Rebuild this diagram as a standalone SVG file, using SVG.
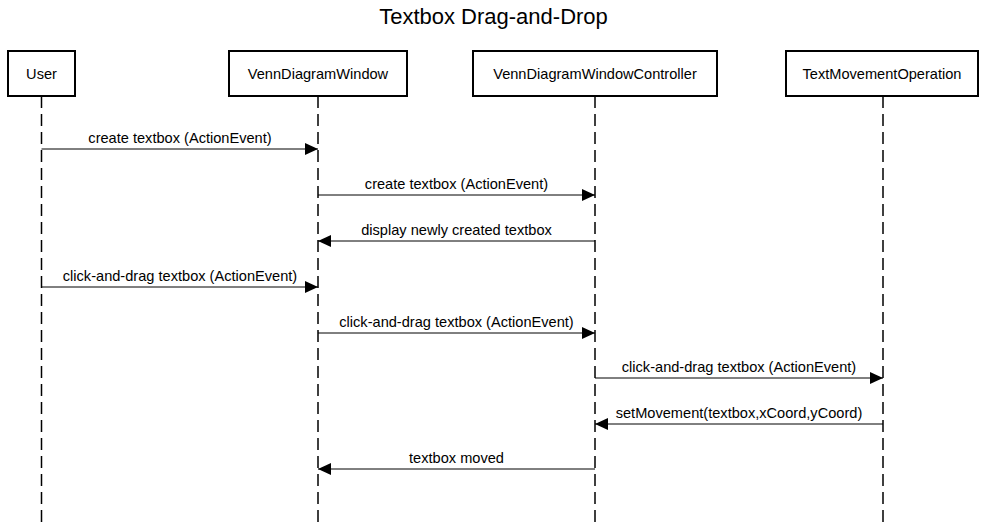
<svg xmlns="http://www.w3.org/2000/svg" width="987" height="527" viewBox="0 0 987 527">
<style>
.box{fill:#fff;stroke:#000;stroke-width:2}
.lbl{font-family:"Liberation Sans",Arial,sans-serif;font-size:14.6px;fill:#000;text-anchor:middle}
.title{font-family:"Liberation Sans",Arial,sans-serif;font-size:22px;fill:#000;text-anchor:middle}
.life{stroke:#000;stroke-width:1.5;stroke-dasharray:12 6;fill:none}
.msg{stroke:#000;stroke-width:1;fill:none}
</style>
<defs>
<marker id="ah" viewBox="0 0 13 12" refX="13" refY="6" markerWidth="13" markerHeight="12" markerUnits="userSpaceOnUse" orient="auto">
<path d="M0,0 L13,6 L0,12 Z" fill="#000"/>
</marker>
</defs>
<rect width="987" height="527" fill="#fff"/>
<text class="title" x="493.5" y="24">Textbox Drag-and-Drop</text>
<g id="lifelines">
<line class="life" x1="41.5" y1="96" x2="41.5" y2="522"/>
<line class="life" x1="318" y1="96" x2="318" y2="522"/>
<line class="life" x1="595" y1="96" x2="595" y2="522"/>
<line class="life" x1="883" y1="96" x2="883" y2="522"/>
</g>
<g id="user"><rect class="box" x="8" y="51" width="67" height="45"/><text class="lbl" x="41.5" y="79">User</text></g>
<g id="window"><rect class="box" x="229" y="51" width="178" height="45"/><text class="lbl" x="318" y="79">VennDiagramWindow</text></g>
<g id="controller"><rect class="box" x="473" y="51" width="244" height="45"/><text class="lbl" x="595" y="79">VennDiagramWindowController</text></g>
<g id="textmove"><rect class="box" x="786" y="51" width="192" height="45"/><text class="lbl" x="882" y="79">TextMovementOperation</text></g>
<g id="connectors">
<line class="msg" x1="41.5" y1="149" x2="318" y2="149" marker-end="url(#ah)"/>
<text class="lbl" x="180" y="143">create textbox (ActionEvent)</text>
<line class="msg" x1="318" y1="195" x2="595" y2="195" marker-end="url(#ah)"/>
<text class="lbl" x="456.5" y="189">create textbox (ActionEvent)</text>
<line class="msg" x1="595" y1="241" x2="318" y2="241" marker-end="url(#ah)"/>
<text class="lbl" x="456.5" y="235">display newly created textbox</text>
<line class="msg" x1="41.5" y1="287" x2="318" y2="287" marker-end="url(#ah)"/>
<text class="lbl" x="180" y="281">click-and-drag textbox (ActionEvent)</text>
<line class="msg" x1="318" y1="333" x2="595" y2="333" marker-end="url(#ah)"/>
<text class="lbl" x="456.5" y="327">click-and-drag textbox (ActionEvent)</text>
<line class="msg" x1="595" y1="378" x2="883" y2="378" marker-end="url(#ah)"/>
<text class="lbl" x="739" y="372">click-and-drag textbox (ActionEvent)</text>
<line class="msg" x1="883" y1="424" x2="595" y2="424" marker-end="url(#ah)"/>
<text class="lbl" x="739" y="418">setMovement(textbox,xCoord,yCoord)</text>
<line class="msg" x1="595" y1="469" x2="318" y2="469" marker-end="url(#ah)"/>
<text class="lbl" x="456.5" y="463">textbox moved</text>
</g>
</svg>
